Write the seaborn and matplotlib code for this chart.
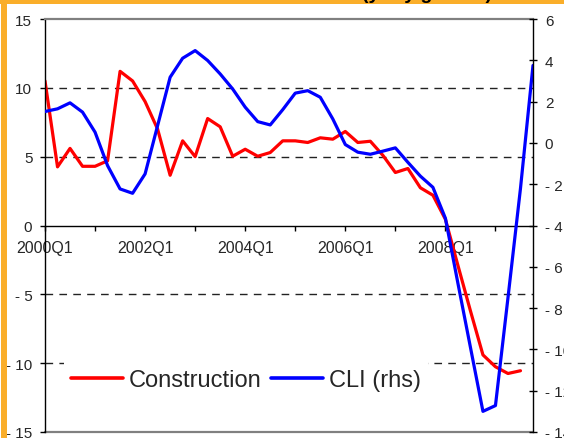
import numpy as np
import pandas as pd
import matplotlib
matplotlib.use("Agg")
import matplotlib.pyplot as plt
import seaborn as sns
from matplotlib.patches import Rectangle
from matplotlib.lines import Line2D

# ---------------- data ----------------
quarters = [f"{y}Q{q}" for y in range(2000, 2010) for q in range(1, 5)]
construction = [10.5, 4.26, 5.6, 4.3, 4.3, 4.7, 11.2, 10.5, 9.0, 7.0,
                3.65, 6.15, 5.0, 7.77, 7.17, 5.03, 5.54, 5.03, 5.3, 6.15,
                6.15, 6.03, 6.37, 6.27, 6.83, 6.03, 6.12, 5.1, 3.85, 4.14,
                2.74, 2.2, 0.45, -2.9, -6.2, -9.4, -10.26, -10.75, -10.55, np.nan]
cli = [1.52, 1.65, 1.94, 1.49, 0.52, -1.1, -2.23, -2.44, -1.5, 0.84,
       3.18, 4.1, 4.47, 3.99, 3.34, 2.61, 1.73, 1.03, 0.87, 1.61,
       2.41, 2.53, 2.21, 1.16, -0.08, -0.45, -0.55, -0.4, -0.24, -0.94,
       -1.61, -2.15, -3.65, -6.8, -9.9, -13.0, -12.72, -7.5, -2.2, 3.75]
series_names = ["Construction", "CLI (rhs)"]
title = "(y-o-y growth)"

left_ticks = [-15, -10, -5, 0, 5, 10, 15]
left_tick_labels = ["- 15", "- 10", "- 5", "0", "5", "10", "15"]
right_ticks = [-14, -12, -10, -8, -6, -4, -2, 0, 2, 4, 6]
right_tick_labels = ["- 14", "- 12", "- 10", "- 8", "- 6", "- 4", "- 2", "0", "2", "4", "6"]
grid_levels = [10, 5, -5, -10]
x_major = [0, 8, 16, 24, 32]
x_minor = [4, 12, 20, 28, 36]

df = pd.DataFrame({"idx": np.arange(len(quarters)), "quarter": quarters,
                   "Construction": construction, "CLI": cli})

# ---------------- style ----------------
sns.set_style("white")
plt.rcParams["font.family"] = ["Liberation Sans", "DejaVu Sans"]

W, H = 564, 439
fig = plt.figure(figsize=(W / 100, H / 100), dpi=100)
fig.patch.set_facecolor("white")

orange = "#FAAE2A"
fig.patches.append(Rectangle((0, 1 - 5 / H), 1, 5 / H, transform=fig.transFigure,
                             facecolor=orange, edgecolor="none", zorder=0))
fig.patches.append(Rectangle((1 / W, 0), 6 / W, 1, transform=fig.transFigure,
                             facecolor=orange, edgecolor="none", zorder=0))
fig.text(492 / W, 1 + 1.0 / H, title, ha="right", va="baseline",
         fontsize=14, fontweight="bold", color="black", zorder=5)

ax = fig.add_axes([45 / W, 6 / H, (533 - 45) / W, (433 - 20) / H])
ax.set_facecolor("none")
ax2 = ax.twinx()

red = "#FF0000"
blue = "#0000FF"

sns.lineplot(data=df, x="idx", y="Construction", ax=ax, color=red, lw=2.3)
sns.lineplot(data=df, x="idx", y="CLI", ax=ax2, color=blue, lw=2.3)

ax.set_xlim(0, 39)
ax.set_ylim(-15, 15)
ax2.set_ylim(-14, 6)

for g in grid_levels:
    ax.axhline(g, color="#222222", lw=1.0, linestyle=(0, (5.5, 4.5)), zorder=0.5)
ax.axhline(-15, color="#808080", lw=1.6, clip_on=False, zorder=0.5)

# spines
ax.spines["bottom"].set_position(("data", 0))
ax.spines["bottom"].set_color("black")
ax.spines["bottom"].set_linewidth(1.0)
ax.spines["left"].set_color("black")
ax.spines["left"].set_linewidth(1.0)
ax.spines["top"].set_color("#808080")
ax.spines["top"].set_linewidth(1.6)
ax.spines["right"].set_visible(False)
for s in ["top", "left", "bottom"]:
    ax2.spines[s].set_visible(False)
ax2.spines["right"].set_color("black")
ax2.spines["right"].set_linewidth(1.0)

# ticks
ax.set_xticks(x_major)
ax.set_xticklabels([quarters[i] for i in x_major])
ax.set_xticks(x_minor, minor=True)
ax.tick_params(axis="x", which="both", direction="out", length=3.6, width=1,
               color="black", labelsize=11.5, pad=7, bottom=True)
ax.set_yticks(left_ticks)
ax.set_yticklabels(left_tick_labels)
ax.tick_params(axis="y", direction="out", length=3.6, width=1, color="black",
               labelsize=11, pad=5.5, left=True)
ax2.set_yticks(right_ticks)
ax2.set_yticklabels(right_tick_labels)
ax2.tick_params(axis="y", direction="inout", length=6, width=1, color="black",
                labelsize=11, pad=5.5, right=True)

ax.set_xlabel("")
ax.set_ylabel("")
ax2.set_ylabel("")

handles = [Line2D([], [], color=red, lw=2.6), Line2D([], [], color=blue, lw=2.6)]
leg = ax2.legend(handles, series_names, loc="center left",
                 bbox_to_anchor=(64 / W, 1 - 381 / H), bbox_transform=fig.transFigure,
                 ncol=2, fontsize=17, frameon=True, fancybox=False, framealpha=1,
                 facecolor="white", edgecolor="none", borderaxespad=0,
                 borderpad=0.3, handlelength=2.2, handletextpad=0.25,
                 columnspacing=0.4)
leg.set_zorder(10)

fig.savefig("out.png", dpi=100, facecolor=fig.get_facecolor())
